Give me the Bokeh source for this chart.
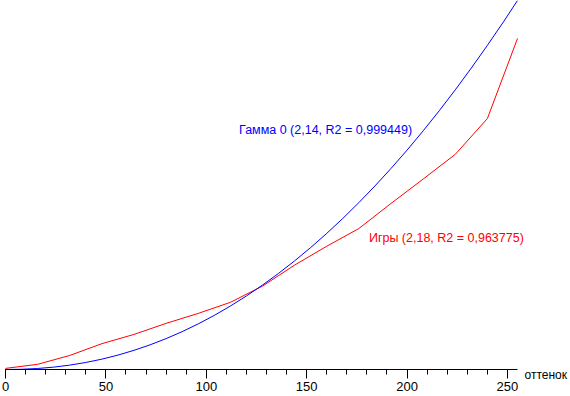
from bokeh.plotting import figure
from bokeh.models import Range1d, SingleIntervalTicker, Label
from bokeh.embed import file_html
from bokeh.resources import INLINE

# Gamma fit curve ("Гамма 0"), read at steps of 8
blue_x = [0, 8, 16, 24, 32, 40, 48, 56, 64, 72, 80, 88, 96, 104, 112, 120, 128,
          136, 144, 152, 160, 168, 176, 184, 192, 200, 208, 216, 224, 232, 240, 248, 255]
blue_y = [0.0, 0.0006, 0.0027, 0.0064, 0.0118, 0.0190, 0.0280, 0.0390, 0.0519,
          0.0668, 0.0837, 0.1026, 0.1236, 0.1467, 0.1719, 0.1993, 0.2288,
          0.2605, 0.2944, 0.3305, 0.3689, 0.4094, 0.4523, 0.4974, 0.5448,
          0.5945, 0.6467, 0.7010, 0.7578, 0.8169, 0.8784, 0.9420, 1.0]

# Measured curve ("Игры"), read at steps of 16
red_x = [0, 16, 32, 48, 64, 80, 96, 112, 128, 144, 160, 176, 192, 208, 224, 240, 255]
red_y = [0.003, 0.014, 0.038, 0.070, 0.095, 0.125, 0.152, 0.182, 0.226,
         0.283, 0.334, 0.382, 0.450, 0.516, 0.583, 0.680, 0.897]

blue_label = "Гамма 0 (2,14, R2 = 0,999449)"
red_label = "Игры (2,18, R2 = 0,963775)"
x_axis_name = "оттенок"

FONT = "Liberation Sans"

p = figure(width=570, height=396, output_backend="svg", toolbar_location=None,
           x_range=Range1d(-2.49, 281.4), y_range=Range1d(-0.0732, 1),
           y_axis_location=None, min_border_left=0, min_border_right=0,
           min_border_top=0, min_border_bottom=0)
p.outline_line_color = None
p.xgrid.visible = False
p.ygrid.visible = False
p.background_fill_color = "white"
p.border_fill_color = "white"

p.line(red_x, red_y, line_color="#ff0000", line_width=1)
p.line(blue_x, blue_y, line_color="#0000ff", line_width=1)

ax = p.xaxis[0]
ax.fixed_location = 0
ax.bounds = (0, 255)
ax.ticker = SingleIntervalTicker(interval=50, num_minor_ticks=5)
ax.axis_line_color = "black"
ax.axis_line_width = 1
ax.major_tick_in = 0
ax.major_tick_out = 9
ax.minor_tick_in = 0
ax.minor_tick_out = 5
ax.major_tick_line_color = "black"
ax.minor_tick_line_color = "black"
ax.major_label_standoff = 4
ax.major_label_text_font = FONT
ax.major_label_text_font_size = "13px"
ax.major_label_text_color = "black"

p.add_layout(Label(x=202.5, y=0.650, text=blue_label, text_align="right",
                   text_baseline="alphabetic", text_color="#0000ff",
                   text_font=FONT, text_font_size="12.5px"))
p.add_layout(Label(x=181, y=0.357, text=red_label, text_align="left",
                   text_baseline="alphabetic", text_color="#ff0000",
                   text_font=FONT, text_font_size="12.5px"))
p.add_layout(Label(x=255, y=0, x_offset=7, y_offset=-6, text=x_axis_name,
                   text_align="left", text_baseline="alphabetic",
                   text_color="black", text_font=FONT, text_font_size="12px"))

open("out.html", "w").write(file_html(p, INLINE))
